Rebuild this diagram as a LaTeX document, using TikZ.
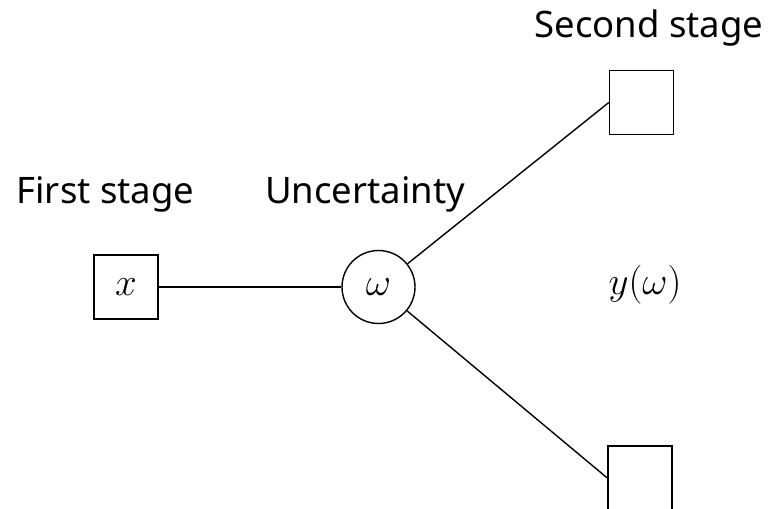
\RequirePackage{fix-cm}
\documentclass[tikz,border=0pt]{standalone}
\usepackage{fontspec}
\setmainfont{Noto Sans}
\begin{document}
\begin{tikzpicture}[x=1pt,y=-1pt,
  lbl/.style={font=\fontsize{36.5}{44}\selectfont, anchor=base, inner sep=0},
  box/.style={draw, line width=1.4pt, minimum size=64pt, inner sep=0},
  chance/.style={draw, circle, line width=1.4pt, minimum size=73pt, inner sep=0},
  mth/.style={font=\fontsize{39}{47}\selectfont, inner sep=0},
  link/.style={line width=1.4pt}]
\useasboundingbox (0,0) rectangle (769,509);
\node[box, mth] (x) at (126,287) {$x$};
\node[chance, mth] (w) at (378.5,287) {$\omega$};
\node[box] (s1) at (641.5,102.5) {};
\node[box] (s2) at (640,478) {};
\node[mth] (y) at (645,285) {$y(\omega)$};
\node[lbl] (t1) at (105.5,203) {First stage};
\node[lbl] (t2) at (365,203) {Uncertainty};
\node[lbl] (t3) at (649,37) {Second stage};
\draw[link] (x) -- (w);
\draw[link] (w) -- (s1.west);
\draw[link] (w) -- (s2.west);
\end{tikzpicture}
\end{document}
